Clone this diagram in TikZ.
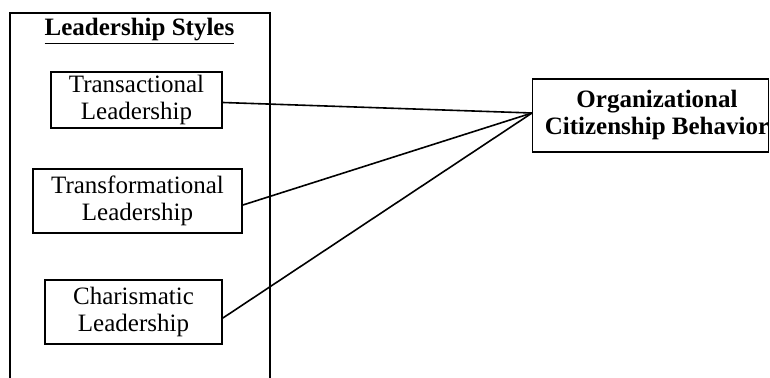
\documentclass[tikz,border=0pt]{standalone}
\usepackage{fontspec}
\setmainfont{Liberation Serif}
\begin{document}
\begin{tikzpicture}[x=1pt,y=-1pt,
  every node/.style={font=\fontsize{25}{26.5}\selectfont, align=center, inner sep=0pt},
  boxnode/.style={draw, line width=1.8pt},
  link/.style={line width=1.6pt}]
\useasboundingbox (0,0) rectangle (770,377);
\clip (0,0) rectangle (770,377);
% outer group box
\draw[line width=1.8pt] (10,395) -- (10,13) -- (270,13) -- (270,395);
\node (title) at (139.5,31) {\bfseries\underline{Leadership Styles}};
% inner boxes
\node[boxnode, minimum width=171pt, minimum height=56pt] (tra) at (136.5,100) {Transactional\\Leadership};
\node[boxnode, minimum width=209pt, minimum height=64pt] (tfm) at (137.5,201) {Transformational\\Leadership};
\node[boxnode, minimum width=177pt, minimum height=64pt] (cha) at (133.5,312) {Charismatic\\Leadership};
% OCB box
\node[boxnode, minimum width=236pt, minimum height=73pt] (ocb) at (650.5,115.5) {};
\node (ocbtext) at (657,115) {\bfseries Organizational\\\bfseries Citizenship Behavior};
\coordinate (conv) at (532,113);
\draw[link] ([yshift=-2.5pt]tra.east) -- (conv);
\draw[link] ([yshift=-4pt]tfm.east) -- (conv);
\draw[link] ([yshift=-6pt]cha.east) -- (conv);
\end{tikzpicture}
\end{document}
